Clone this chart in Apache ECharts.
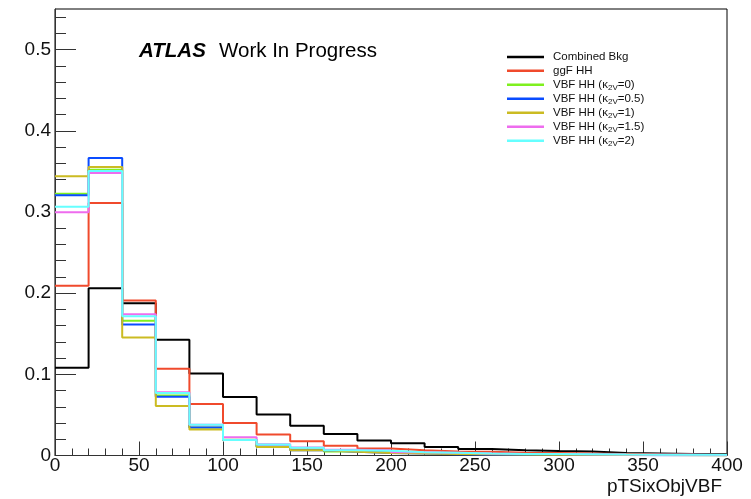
<!DOCTYPE html>
<html>
<head>
<meta charset="utf-8">
<script src="https://cdn.jsdelivr.net/npm/echarts@6/dist/echarts.min.js"></script>
<style>
  html, body { margin: 0; padding: 0; background: #fff; }
  #chart { width: 751px; height: 499px; }
</style>
</head>
<body>
<div id="chart"></div>
<script>
// Histogram binning of pTSixObjVBF (GeV): 20 bins of width 20 from 0 to 400
const binWidth = 20;
const binLowEdges = [0, 20, 40, 60, 80, 100, 120, 140, 160, 180, 200, 220, 240, 260, 280, 300, 320, 340, 360, 380];

// Normalised bin contents per sample
const combinedBkg = [0.108, 0.206, 0.1875, 0.1425, 0.101, 0.072, 0.0505, 0.0365, 0.0265, 0.0185, 0.015, 0.0105, 0.008, 0.0065, 0.0055, 0.005, 0.003, 0.0025, 0.002, 0.002];
const ggFHH = [0.209, 0.311, 0.191, 0.107, 0.0635, 0.040, 0.026, 0.0175, 0.012, 0.0085, 0.0065, 0.005, 0.0045, 0.0035, 0.003, 0.0025, 0.002, 0.0015, 0.0012, 0.001];
const vbfK0 = [0.3225, 0.352, 0.166, 0.074, 0.0345, 0.0195, 0.0105, 0.0075, 0.005, 0.004, 0.003, 0.0025, 0.002, 0.0015, 0.0012, 0.001, 0.0008, 0.0006, 0.0005, 0.0004];
const vbfK05 = [0.3205, 0.3665, 0.1615, 0.0725, 0.0345, 0.019, 0.011, 0.0065, 0.0045, 0.003, 0.0025, 0.0015, 0.0012, 0.001, 0.0008, 0.0006, 0.0005, 0.0004, 0.0003, 0.0002];
const vbfK1 = [0.344, 0.3555, 0.1455, 0.061, 0.032, 0.019, 0.0105, 0.0065, 0.0045, 0.003, 0.0025, 0.002, 0.0015, 0.0012, 0.001, 0.0008, 0.0006, 0.0005, 0.0004, 0.0003];
const vbfK15 = [0.2995, 0.348, 0.174, 0.078, 0.038, 0.0225, 0.014, 0.010, 0.007, 0.0065, 0.004, 0.0035, 0.0025, 0.002, 0.0018, 0.0015, 0.0012, 0.001, 0.0008, 0.0006];
const vbfK2 = [0.3065, 0.3505, 0.1715, 0.077, 0.038, 0.019, 0.0135, 0.0095, 0.0065, 0.006, 0.004, 0.0035, 0.0025, 0.002, 0.0018, 0.0015, 0.0012, 0.001, 0.001, 0.0008];

// Legend entries (rich text for the kappa_2V subscript)
const seriesNames = [
  'Combined Bkg',
  'ggF HH',
  'VBF HH (κ{sub|2V}=0)',
  'VBF HH (κ{sub|2V}=0.5)',
  'VBF HH (κ{sub|2V}=1)',
  'VBF HH (κ{sub|2V}=1.5)',
  'VBF HH (κ{sub|2V}=2)'
];
const seriesValues = [combinedBkg, ggFHH, vbfK0, vbfK05, vbfK1, vbfK15, vbfK2];
const seriesColors = ['#000000', '#f04a2c', '#7ff01e', '#0a4cff', '#cbbb22', '#ee6cee', '#66ffff'];

// Axis ticks and labels
const xMin = 0, xMax = 400, xMajorStep = 50;
const yMin = 0, yMax = 0.55;
const yMajorTicks = [0, 0.1, 0.2, 0.3, 0.4, 0.5];
const yMinorTicks = [0.02, 0.04, 0.06, 0.08, 0.12, 0.14, 0.16, 0.18, 0.22, 0.24, 0.26, 0.28,
                     0.32, 0.34, 0.36, 0.38, 0.42, 0.44, 0.46, 0.48, 0.52, 0.54];
const xTitle = 'pTSixObjVBF';
const experimentLabel = 'ATLAS';
const statusLabel = 'Work In Progress';

const FONT = '"Liberation Sans", Arial, Helvetica, sans-serif';
const AXIS_COLOR = '#333';

// Turn bin contents into step-line points: each bin is held flat up to the next edge
function histPoints(values) {
  const pts = binLowEdges.map((x, i) => [x, values[i]]);
  pts.push([binLowEdges[binLowEdges.length - 1] + binWidth, values[values.length - 1]]);
  return pts;
}

const chart = echarts.init(document.getElementById('chart'), null, { renderer: 'canvas' });

const series = seriesNames.map((name, i) => ({
  name: name,
  type: 'line',
  step: 'end',
  showSymbol: false,
  symbol: 'none',
  animation: false,
  xAxisIndex: 0,
  yAxisIndex: 0,
  data: histPoints(seriesValues[i]),
  lineStyle: { color: seriesColors[i], width: 2 },
  itemStyle: { color: seriesColors[i] },
  z: 2 + i
}));

chart.setOption({
  animation: false,
  backgroundColor: '#ffffff',
  grid: {
    left: 55, right: 24, top: 9, bottom: 43.5,
    containLabel: false,
    outerBoundsMode: 'none',
    show: true, borderColor: '#000', borderWidth: 1, backgroundColor: 'transparent'
  },
  xAxis: {
    type: 'value',
    min: xMin, max: xMax, interval: xMajorStep,
    axisLine: { show: true, lineStyle: { color: AXIS_COLOR, width: 1 } },
    axisTick: { show: true, inside: true, length: 14, lineStyle: { color: AXIS_COLOR, width: 1 } },
    minorTick: { show: true, splitNumber: 5, length: 7, lineStyle: { color: AXIS_COLOR, width: 1 } },
    axisLabel: { fontFamily: FONT, fontSize: 19, color: '#111', margin: 1 },
    splitLine: { show: false },
    minorSplitLine: { show: false }
  },
  yAxis: [
    {
      type: 'value',
      min: yMin, max: yMax,
      axisLine: { show: true, lineStyle: { color: AXIS_COLOR, width: 1 } },
      axisTick: { show: true, inside: true, length: 21, customValues: yMajorTicks,
                  lineStyle: { color: AXIS_COLOR, width: 1 } },
      axisLabel: {
        fontFamily: FONT, fontSize: 19, color: '#111', margin: 4,
        customValues: yMajorTicks,
        formatter: v => (v === 0 ? '0' : v.toFixed(1))
      },
      splitLine: { show: false }
    },
    {
      type: 'value',
      min: yMin, max: yMax,
      position: 'left',
      axisLine: { show: false },
      axisTick: { show: true, inside: true, length: 11, customValues: yMinorTicks,
                  lineStyle: { color: AXIS_COLOR, width: 1 } },
      axisLabel: { show: false },
      splitLine: { show: false }
    }
  ],
  legend: {
    orient: 'vertical',
    left: 502, top: 45,
    itemGap: 0,
    itemWidth: 37, itemHeight: 2.5,
    icon: 'rect',
    data: seriesNames,
    textStyle: {
      fontFamily: FONT, fontSize: 11.5, color: '#111', lineHeight: 13.9, padding: [0, 0, 0, 4],
      rich: {
        sub: { fontFamily: FONT, fontSize: 8, lineHeight: 13.9, verticalAlign: 'bottom', padding: [6, 0, 0, 0] }
      }
    }
  },
  graphic: [
    {
      type: 'text',
      x: 139, y: 51.2,
      style: {
        text: experimentLabel,
        fontFamily: FONT, fontSize: 20.5, fontWeight: 'bold', fontStyle: 'italic',
        fill: '#000', align: 'left', verticalAlign: 'middle'
      }
    },
    {
      type: 'text',
      x: 219, y: 51.2,
      style: {
        text: statusLabel,
        fontFamily: FONT, fontSize: 20.5, fill: '#000', align: 'left', verticalAlign: 'middle'
      }
    },
    {
      type: 'text',
      x: 722, y: 486.4,
      style: {
        text: xTitle,
        fontFamily: FONT, fontSize: 19, fill: '#111', align: 'right', verticalAlign: 'middle'
      }
    }
  ],
  series: series
});
</script>
</body>
</html>
